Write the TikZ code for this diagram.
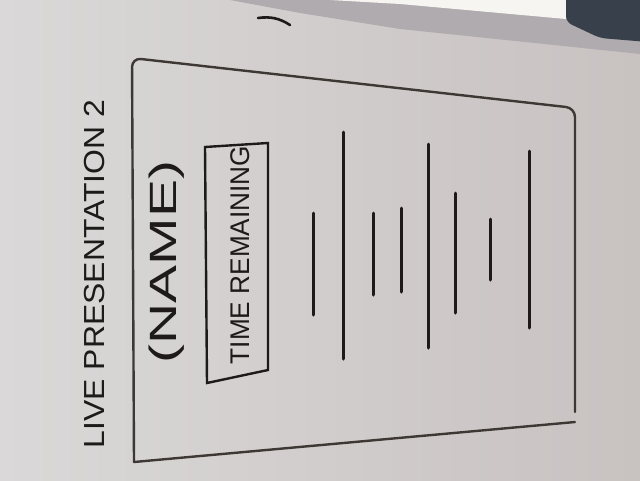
\documentclass[tikz,border=0pt]{standalone}
\usepackage{fontspec}
\setmainfont{Liberation Sans}
\usetikzlibrary{calc}

\definecolor{ink}{HTML}{1E1A1A}
\definecolor{pen}{HTML}{3E3834}
\definecolor{boardL}{HTML}{DAD8D8}
\definecolor{boardR}{HTML}{C8C2C1}
\definecolor{barGray}{HTML}{B0ABAE}
\definecolor{glare}{HTML}{F7F5F2}
\definecolor{shadow}{HTML}{38404C}

\begin{document}
\begin{tikzpicture}[
  x=1pt, y=-1pt,
  marker/.style={draw=ink, line width=3pt, line cap=round},
  frameline/.style={draw=pen, line width=2.4pt, line cap=round, rounded corners=9pt},
  boxline/.style={draw=ink, line width=2.4pt, line cap=round},
  scrawl/.style={text=ink, inner sep=0pt, rotate=90}
]
\useasboundingbox (0,0) rectangle (640,480);
\clip (0,0) rectangle (640,480);
% board and its surroundings
\fill[left color=boardL, right color=boardR] (0,0) rectangle (640,480);
\fill[barGray] (230,0) -- (640,0) -- (640,54) -- (400,29) -- (300,13) -- cycle;
\fill[glare] (330,0) -- (566,0) -- (566,19) -- (400,4) -- cycle;
\fill[shadow, rounded corners=6pt] (566,-8) -- (648,-8) -- (648,42) -- (600,38) -- (566,22) -- cycle;
\draw[marker, line width=2.6pt] (258,18) to[bend left=20] (290,25);

% outer frame
\coordinate (tl) at (132,58);
\coordinate (tr) at (575,108);
\coordinate (br) at (575,412);
\coordinate (bl) at (134,462);
\draw[frameline] (bl) -- (tl) -- (tr) -- (br);
\draw[frameline] (bl) -- (575,422);

% title and name
\node[scrawl, font=\fontsize{29}{29}\selectfont, xscale=1.1] (title) at (95,274) {LIVE PRESENTATION 2};
\node[scrawl, font=\fontsize{38}{38}\selectfont, xscale=1.5] (name) at (167,262) {(NAME)};

% time remaining box
\draw[boxline] (205,147) -- (268,143) -- (268,370) -- (207,383) -- cycle;
\node[scrawl, font=\fontsize{27}{27}\selectfont, xscale=0.97] (time) at (240,255) {TIME REMAINING};

% bars
\foreach \x/\ya/\yb in {313/213/315, 343/132/359, 373/213/295, 401/208/292,
                        428/144/348, 455/193/313, 490/219/280, 529/151/328}
  \draw[marker] (\x,\ya) -- (\x,\yb);
\end{tikzpicture}
\end{document}
